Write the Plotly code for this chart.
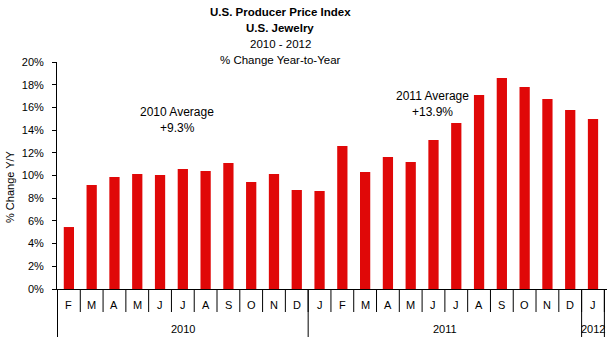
import plotly.graph_objects as go

# Monthly year-over-year change in the U.S. jewelry producer price index
months = ["F", "M", "A", "M", "J", "J", "A", "S", "O", "N", "D",
          "J", "F", "M", "A", "M", "J", "J", "A", "S", "O", "N", "D",
          "J"]
years = ["2010"] * 11 + ["2011"] * 12 + ["2012"]
pct_change = [5.46, 9.16, 9.87, 10.13, 10.04, 10.57, 10.40, 11.10, 9.43, 10.13, 8.72,
              8.63, 12.60, 10.30, 11.63, 11.19, 13.13, 14.63, 17.09, 18.59, 17.80, 16.74, 15.77,
              14.98]
year_labels = ["2010", "2011", "2012"]
avg_notes = [("2010 Average", "+9.3%"), ("2011 Average", "+13.9%")]
title_lines = ["U.S. Producer Price Index", "U.S. Jewelry", "2010 - 2012", "% Change Year-to-Year"]

W, H = 611, 342
M_L, M_R, M_T, M_B = 57, 4, 62, 53
PLOT_H = H - M_T - M_B
FONT = "Liberation Sans, Arial, sans-serif"
RED = "#E00808"


def py(pixel_y):
    """Convert a page pixel row into paper y coordinates."""
    return (H - M_B - pixel_y) / PLOT_H


def px(pixel_x):
    return (pixel_x - M_L) / (W - M_L - M_R)


keys = [f"{y}-{i:02d}" for i, y in enumerate(years)]

fig = go.Figure(go.Bar(x=keys, y=pct_change, marker=dict(color=RED, line=dict(width=0))))

shapes = []
annotations = []

# month separators below the axis
for b in range(len(keys) + 1):
    shapes.append(dict(type="line", xref="x", yref="paper", x0=b - 0.5, x1=b - 0.5,
                       y0=0, y1=py(312), line=dict(color="black", width=1)))

# year group boundaries and labels under the month row
starts = [years.index(y) for y in year_labels]
ends = [len(years) - 1 - years[::-1].index(y) for y in year_labels]
bounds = sorted(set([s - 0.5 for s in starts] + [e + 0.5 for e in ends]))
for b in bounds:
    shapes.append(dict(type="line", xref="x", yref="paper", x0=b, x1=b,
                       y0=0, y1=py(337), line=dict(color="black", width=1)))
for y, s, e in zip(year_labels, starts, ends):
    annotations.append(dict(text=y, xref="x", yref="paper", x=(s + e) / 2, y=py(329),
                            showarrow=False, font=dict(size=11, family=FONT, color="black"),
                            xanchor="center", yanchor="middle"))

# month letters
for k, m in zip(keys, months):
    annotations.append(dict(text=m, xref="x", yref="paper", x=k, y=py(305),
                            showarrow=False, font=dict(size=11, family=FONT, color="black"),
                            xanchor="center", yanchor="middle"))

# centred title lines
title_rows = [12, 28, 44, 60]
for i, (line, row) in enumerate(zip(title_lines, title_rows)):
    text = f"<b>{line}</b>" if i < 2 else line
    annotations.append(dict(text=text, xref="paper", yref="paper", x=px(280), y=py(row),
                            showarrow=False, font=dict(size=11.5, family=FONT, color="black"),
                            xanchor="center", yanchor="middle"))

# yearly averages
avg_pos = [(177, 112, 128), (432, 96, 112)]
for (t1, t2), (cx, r1, r2) in zip(avg_notes, avg_pos):
    for t, r in ((t1, r1), (t2, r2)):
        annotations.append(dict(text=t, xref="paper", yref="paper", x=px(cx), y=py(r),
                                showarrow=False, font=dict(size=12, family=FONT, color="black"),
                                xanchor="center", yanchor="middle"))

# y axis title
annotations.append(dict(text="% Change Y/Y", xref="paper", yref="paper", x=px(10), y=py(187),
                        textangle=-90, showarrow=False,
                        font=dict(size=11, family=FONT, color="black"),
                        xanchor="center", yanchor="middle"))

fig.update_layout(
    width=W, height=H,
    margin=dict(l=M_L, r=M_R, t=M_T, b=M_B, pad=0),
    paper_bgcolor="white", plot_bgcolor="white",
    showlegend=False,
    bargap=0.55,
    font=dict(family=FONT, size=11, color="black"),
    shapes=shapes,
    annotations=annotations,
    xaxis=dict(
        type="category",
        showticklabels=False, ticks="",
        showline=True, linecolor="black", linewidth=1,
        showgrid=False, zeroline=False,
    ),
    yaxis=dict(
        range=[0, 20], dtick=2, tick0=0, ticksuffix="%",
        ticks="outside", ticklen=4, tickcolor="black", tickwidth=1,
        ticklabelstandoff=6,
        showline=True, linecolor="black", linewidth=1,
        showgrid=False, zeroline=False,
        tickfont=dict(size=11, family=FONT, color="black"),
    ),
)

fig.write_html("out.html")
